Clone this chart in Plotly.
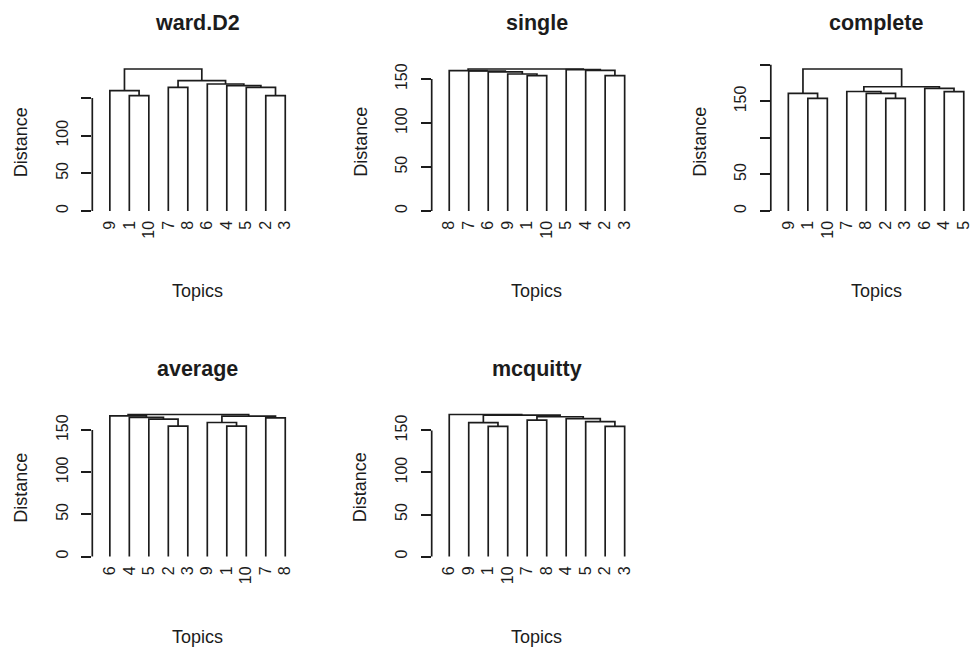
import plotly.graph_objects as go

# ---- hierarchical clustering results (R-style merge tables) ----
# Negative entries are leaves (topic ids), positive entries refer to earlier merge steps.
TITLES = ["ward.D2", "single", "complete", "average", "mcquitty"]

ORDER_WARD = [9, 1, 10, 7, 8, 6, 4, 5, 2, 3]
MERGE_WARD = [(-1, -10), (-2, -3), (-9, 1), (-7, -8), (-5, 2), (-4, 5), (-6, 6), (4, 7), (3, 8)]
HEIGHT_WARD = [153.2, 153.2, 159.8, 164.2, 164.2, 166.4, 168.6, 173.0, 188.5]

ORDER_SINGLE = [8, 7, 6, 9, 1, 10, 5, 4, 2, 3]
MERGE_SINGLE = [(-1, -10), (-2, -3), (-9, 1), (-6, 3), (-7, 4), (-8, 5), (-4, 2), (-5, 7), (6, 8)]
HEIGHT_SINGLE = [153.9, 153.9, 155.8, 158.1, 159.2, 159.6, 160.0, 160.7, 161.5]

ORDER_COMPLETE = [9, 1, 10, 7, 8, 2, 3, 6, 4, 5]
MERGE_COMPLETE = [(-1, -10), (-2, -3), (-9, 1), (-8, 2), (-4, -5), (-7, 4), (-6, 5), (6, 7), (3, 8)]
HEIGHT_COMPLETE = [154.2, 154.2, 161.0, 161.0, 163.2, 163.5, 167.8, 170.0, 194.3]

ORDER_AVERAGE = [6, 4, 5, 2, 3, 9, 1, 10, 7, 8]
MERGE_AVERAGE = [(-2, -3), (-1, -10), (-9, 2), (-5, 1), (-7, -8), (-4, 4), (3, 5), (-6, 6), (8, 7)]
HEIGHT_AVERAGE = [154.7, 154.7, 159.0, 163.0, 164.5, 165.0, 166.5, 166.9, 168.5]

ORDER_MCQUITTY = [6, 9, 1, 10, 7, 8, 4, 5, 2, 3]
MERGE_MCQUITTY = [(-1, -10), (-2, -3), (-9, 1), (-5, 2), (-7, -8), (-4, 4), (5, 6), (3, 7), (-6, 8)]
HEIGHT_MCQUITTY = [154.8, 154.8, 159.2, 160.6, 162.3, 164.0, 166.3, 168.3, 169.0]

# y-axis ticks per panel (some labels suppressed where they would collide)
TICKS_WARD = ([0, 50, 100, 150], ["0", "50", "100", ""])
TICKS_SINGLE = ([0, 50, 100, 150], ["0", "50", "100", "150"])
TICKS_COMPLETE = ([0, 50, 100, 150, 200], ["0", "50", "", "150", ""])
TICKS_AVERAGE = ([0, 50, 100, 150], ["0", "50", "100", "150"])
TICKS_MCQUITTY = ([0, 50, 100, 150], ["0", "50", "100", "150"])

X_LABEL = "Topics"
Y_LABEL = "Distance"

panels = [
    (ORDER_WARD, MERGE_WARD, HEIGHT_WARD, TICKS_WARD),
    (ORDER_SINGLE, MERGE_SINGLE, HEIGHT_SINGLE, TICKS_SINGLE),
    (ORDER_COMPLETE, MERGE_COMPLETE, HEIGHT_COMPLETE, TICKS_COMPLETE),
    (ORDER_AVERAGE, MERGE_AVERAGE, HEIGHT_AVERAGE, TICKS_AVERAGE),
    (ORDER_MCQUITTY, MERGE_MCQUITTY, HEIGHT_MCQUITTY, TICKS_MCQUITTY),
]

W, H = 974, 648
INK = "#1c1c1c"
FONT = "Liberation Sans, Arial, sans-serif"
LINE_W = 1.7

# plot-region geometry in pixels
COL_LEFT = [92.3, 431.7, 770.8]
REGION_W = 210.5
ROW_TOP = [63.3, 408.8]
REGION_H = 153.4


def fx(px):
    return px / W


def fy(py):
    return 1 - py / H


def dendrogram_path(order, merges, heights):
    """Segments of a dendrogram with leaves hanging down to zero."""
    pos = {leaf: i + 1 for i, leaf in enumerate(order)}
    node_x, node_h = {}, {}
    xs, ys = [], []

    def child(c):
        if c < 0:
            return pos[-c], 0.0
        return node_x[c], node_h[c]

    for k, ((a, b), h) in enumerate(zip(merges, heights), start=1):
        xa, ha = child(a)
        xb, hb = child(b)
        if xa > xb:
            xa, ha, xb, hb = xb, hb, xa, ha
        xs += [xa, xa, xb, xb, None]
        ys += [ha, h, h, hb, None]
        node_x[k] = (xa + xb) / 2
        node_h[k] = h
    return xs, ys


fig = go.Figure()
layout = {}
annotations = []
shapes = []

for i, (order, merges, heights, ticks) in enumerate(panels):
    row, col = divmod(i, 3)
    n = len(order)
    left = COL_LEFT[col]
    right = min(left + REGION_W, W)
    top = ROW_TOP[row]
    bottom = top + REGION_H

    # R-like extents: x from 0.5 to n+0.5, y from 0 to max height, each padded 4%
    x_lo = 0.5 - 0.04 * n
    x_span = n * 1.08
    x_hi = x_lo + x_span * (right - left) / REGION_W
    hmax = max(heights)
    y_range = [-0.04 * hmax, 1.04 * hmax]

    xs, ys = dendrogram_path(order, merges, heights)
    sfx = "" if i == 0 else str(i + 1)
    fig.add_trace(go.Scatter(
        x=xs, y=ys, mode="lines", xaxis="x" + sfx, yaxis="y" + sfx,
        line=dict(color=INK, width=LINE_W), hoverinfo="skip", showlegend=False,
    ))

    layout["xaxis" + sfx] = dict(
        domain=[fx(left), fx(right)], range=[x_lo, x_hi], anchor="y" + sfx,
        showgrid=False, zeroline=False, showline=False,
        tickmode="array", tickvals=list(range(1, n + 1)), ticktext=[str(v) for v in order],
        tickangle=-90, ticks="",
        tickfont=dict(family=FONT, size=16, color=INK), fixedrange=True,
    )
    layout["yaxis" + sfx] = dict(
        domain=[fy(bottom), fy(top)], range=y_range, anchor="x" + sfx,
        showgrid=False, zeroline=False, showline=False,
        tickmode="array", tickvals=ticks[0], ticktext=ticks[1],
        tickangle=-90, ticks="outside", ticklen=10, tickwidth=LINE_W, tickcolor=INK,
        ticklabelstandoff=7,
        tickfont=dict(family=FONT, size=16, color=INK), fixedrange=True,
    )
    # axis spine only between first and last tick
    shapes.append(dict(
        type="line", xref="x" + sfx + " domain", yref="y" + sfx,
        x0=0, x1=0, y0=ticks[0][0], y1=ticks[0][-1],
        line=dict(color=INK, width=LINE_W),
    ))

    cx = left + REGION_W / 2
    annotations.append(dict(
        text="<b>" + TITLES[i] + "</b>", x=fx(cx), y=fy(top - 40), xref="paper", yref="paper",
        showarrow=False, xanchor="center", yanchor="middle",
        font=dict(family=FONT, size=21.5, color=INK),
    ))
    annotations.append(dict(
        text=X_LABEL, x=fx(cx), y=fy(bottom + 74.5), xref="paper", yref="paper",
        showarrow=False, xanchor="center", yanchor="middle",
        font=dict(family=FONT, size=18, color=INK),
    ))
    annotations.append(dict(
        text=Y_LABEL, x=fx(left - 71), y=fy((top + bottom) / 2 + 2), xref="paper", yref="paper",
        showarrow=False, xanchor="center", yanchor="middle", textangle=-90,
        font=dict(family=FONT, size=18, color=INK),
    ))

fig.update_layout(
    width=W, height=H, margin=dict(l=0, r=0, t=0, b=0),
    paper_bgcolor="white", plot_bgcolor="white",
    annotations=annotations, shapes=shapes, **layout,
)

fig.write_html("out.html", include_plotlyjs=True, config={"displayModeBar": False})
